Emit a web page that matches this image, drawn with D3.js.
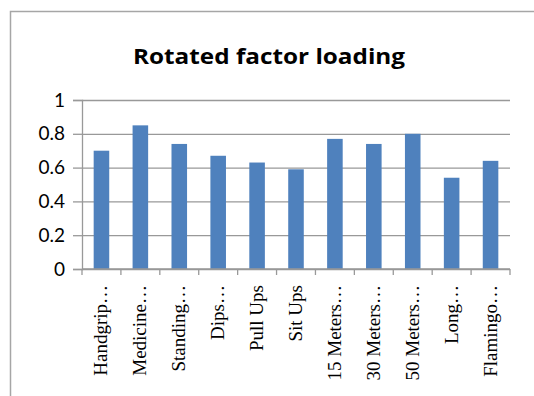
<!DOCTYPE html>
<html>
<head>
<meta charset="utf-8">
<script src="https://cdn.jsdelivr.net/npm/d3@7"></script>
<style>
  body { margin: 0; background: #fff; }
</style>
</head>
<body>
<div id="chart"></div>
<script>
const categories = ["Handgrip…", "Medicine…", "Standing…", "Dips…", "Pull Ups", "Sit Ups",
  "15 Meters…", "30 Meters…", "50 Meters…", "Long…", "Flamingo…"];
const loadings = [0.70, 0.85, 0.74, 0.67, 0.63, 0.59, 0.77, 0.74, 0.80, 0.54, 0.64];
const yTicks = [0, 0.2, 0.4, 0.6, 0.8, 1];

const width = 534, height = 396;
const margin = { top: 100, right: 24, bottom: 127, left: 82 };

const svg = d3.select("#chart").append("svg")
  .attr("width", width)
  .attr("height", height);

// outer chart frame (cut off by the picture at right and bottom)
svg.append("rect")
  .attr("x", 10.5).attr("y", 11.5)
  .attr("width", 600).attr("height", 500)
  .attr("fill", "none")
  .attr("stroke", "#a6a6a6")
  .attr("stroke-width", 1.5);

const x = d3.scaleBand()
  .domain(categories)
  .range([margin.left, width - margin.right])
  .paddingInner(0.6)
  .paddingOuter(0.3);

const y = d3.scaleLinear()
  .domain([0, 1])
  .range([height - margin.bottom, margin.top]);

// 网格线
svg.append("g")
  .attr("transform", `translate(${margin.left},0)`)
  .call(d3.axisLeft(y).tickValues(yTicks).tickSize(-(width - margin.left - margin.right)).tickFormat(""))
  .call(g => g.select(".domain").remove())
  .call(g => g.selectAll("line").attr("stroke", "#999").attr("stroke-width", 1.3));

// bars
svg.selectAll("rect.bar")
  .data(loadings)
  .enter().append("rect")
  .attr("class", "bar")
  .attr("x", (d, i) => x(categories[i]))
  .attr("y", d => y(d))
  .attr("width", x.bandwidth())
  .attr("height", d => y(0) - y(d))
  .attr("fill", "#4f81bd");

// y axis
const yAxis = svg.append("g")
  .attr("transform", `translate(${margin.left},0)`)
  .call(d3.axisLeft(y).tickValues(yTicks).tickSize(9).tickPadding(8).tickFormat(d3.format("")));
yAxis.select(".domain").attr("stroke", "#999").attr("stroke-width", 1.3);
yAxis.selectAll("line").attr("stroke", "#999").attr("stroke-width", 1.3);
yAxis.selectAll("text")
  .attr("font-family", "Lato, 'Open Sans', sans-serif")
  .attr("font-size", 19)
  .attr("fill", "#000");

// x axis: ticks on band boundaries
const step = x.step();
const bounds = d3.range(categories.length + 1).map(i => margin.left + i * step);
svg.append("line")
  .attr("x1", margin.left).attr("x2", width - margin.right)
  .attr("y1", y(0)).attr("y2", y(0))
  .attr("stroke", "#999").attr("stroke-width", 1.3);
svg.selectAll("line.xtick")
  .data(bounds)
  .enter().append("line")
  .attr("class", "xtick")
  .attr("x1", d => d).attr("x2", d => d)
  .attr("y1", y(0)).attr("y2", y(0) + 6)
  .attr("stroke", "#999").attr("stroke-width", 1.3);

svg.selectAll("text.xlabel")
  .data(categories)
  .enter().append("text")
  .attr("class", "xlabel")
  .attr("transform", d => `translate(${x(d) + x.bandwidth() / 2 + 6},${y(0) + 16}) rotate(-90)`)
  .attr("text-anchor", "end")
  .attr("font-family", "'Liberation Serif', 'Times New Roman', serif")
  .attr("font-size", 19)
  .attr("fill", "#000")
  .text(d => d);

// title
svg.append("text")
  .attr("x", 269)
  .attr("y", 64)
  .attr("text-anchor", "middle")
  .attr("font-family", "'Open Sans', Lato, sans-serif")
  .attr("font-weight", "bold")
  .attr("font-size", 21)
  .attr("textLength", 272)
  .attr("lengthAdjust", "spacingAndGlyphs")
  .attr("fill", "#000")
  .text("Rotated factor loading");
</script>
</body>
</html>
